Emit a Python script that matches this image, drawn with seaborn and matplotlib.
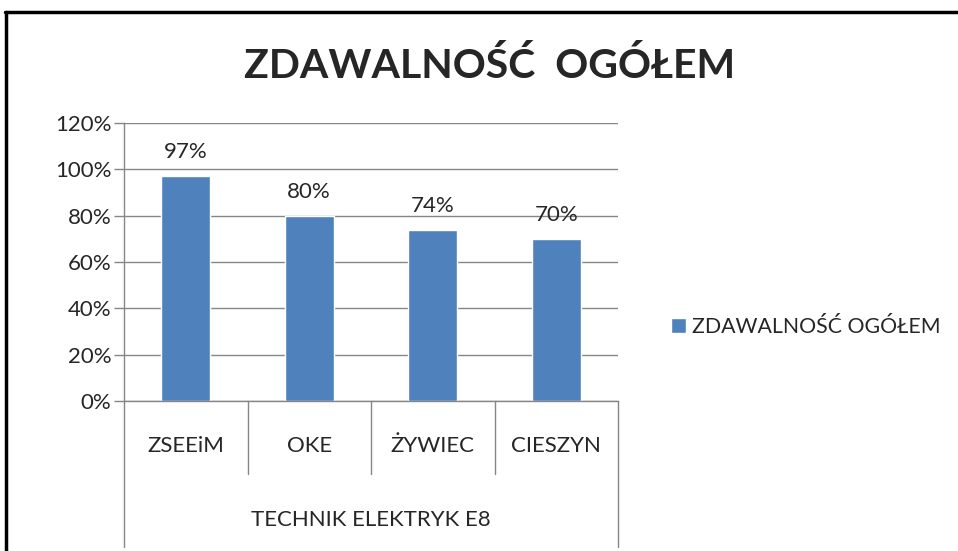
import pandas as pd
import matplotlib
matplotlib.use("Agg")
import matplotlib.pyplot as plt
import matplotlib.transforms as mtrans
from matplotlib.lines import Line2D
import seaborn as sns

# data
schools = ["ZSEEiM", "OKE", "ŻYWIEC", "CIESZYN"]
pass_rate = [97, 80, 74, 70]
group_label = "TECHNIK ELEKTRYK E8"
series_name = "ZDAWALNOŚĆ OGÓŁEM"
title = "ZDAWALNOŚĆ  OGÓŁEM"
y_ticks = [0, 20, 40, 60, 80, 100, 120]

sns.set_style("white")
plt.rcParams["font.family"] = ["Lato", "DejaVu Sans"]

grid_col = "#868686"
bar_col = "#4F81BD"
fs = 16

df = pd.DataFrame({"school": schools, "rate": pass_rate, "series": series_name})

fig = plt.figure(figsize=(9.58, 5.51), dpi=100)
ax = fig.add_axes([124 / 958, 1 - 401 / 551, (618 - 124) / 958, (401 - 123) / 551])

sns.barplot(data=df, x="school", y="rate", hue="series", palette=[bar_col],
            saturation=1, width=0.4, ax=ax, legend=True)

ax.set_ylim(0, 120)
ax.set_xlim(-0.5, len(schools) - 0.5)
ax.set_yticks(y_ticks)
ax.set_yticklabels([f"{v}%" for v in y_ticks], fontsize=fs)
ax.yaxis.grid(True, color=grid_col, linewidth=1)
ax.set_axisbelow(True)
ax.tick_params(axis="y", length=7, color=grid_col, width=1, pad=2, left=True)
ax.set_xticks([])
ax.set_xlabel("")
ax.set_ylabel("")
for s in ["top", "right"]:
    ax.spines[s].set_visible(False)
for s in ["left", "bottom"]:
    ax.spines[s].set_color(grid_col)
    ax.spines[s].set_linewidth(1)

# value labels
for i, v in enumerate(pass_rate):
    ax.annotate(f"{v}%", (i, v), xytext=(0, 10), textcoords="offset points",
                ha="center", va="bottom", fontsize=fs)

# multi-level category axis
tr = mtrans.blended_transform_factory(ax.transData, ax.transAxes)
n = len(schools)
for k in range(n + 1):
    xb = k - 0.5
    y_end = -0.525 if k in (0, n) else -0.2626
    ax.add_line(Line2D([xb, xb], [0, y_end], transform=tr, color=grid_col,
                       linewidth=1, clip_on=False))
for i, name in enumerate(schools):
    ax.text(i, -0.162, name, transform=tr, ha="center", va="center", fontsize=fs)
ax.text((n - 1) / 2, -0.428, group_label, transform=tr, ha="center", va="center",
        fontsize=fs)

# legend
ax.get_legend().remove()
handles, labels = ax.get_legend_handles_labels()
fig.legend(handles, labels, loc="center left", bbox_to_anchor=(652 / 958, 1 - 327 / 551),
           frameon=False, fontsize=15.3, handlelength=0.7, handleheight=0.7,
           handletextpad=0.3)

fig.text(490 / 958, 1 - 66 / 551, title, ha="center", va="center",
         fontsize=29.5, fontweight="bold")

# chart border (clipped at right and bottom)
fig.add_artist(Line2D([5 / 958, 1], [1 - 12 / 551] * 2, transform=fig.transFigure,
                      color="black", linewidth=2.5))
fig.add_artist(Line2D([6 / 958] * 2, [0, 1 - 12 / 551], transform=fig.transFigure,
                      color="black", linewidth=2.5))

fig.savefig("out.png", dpi=100)
